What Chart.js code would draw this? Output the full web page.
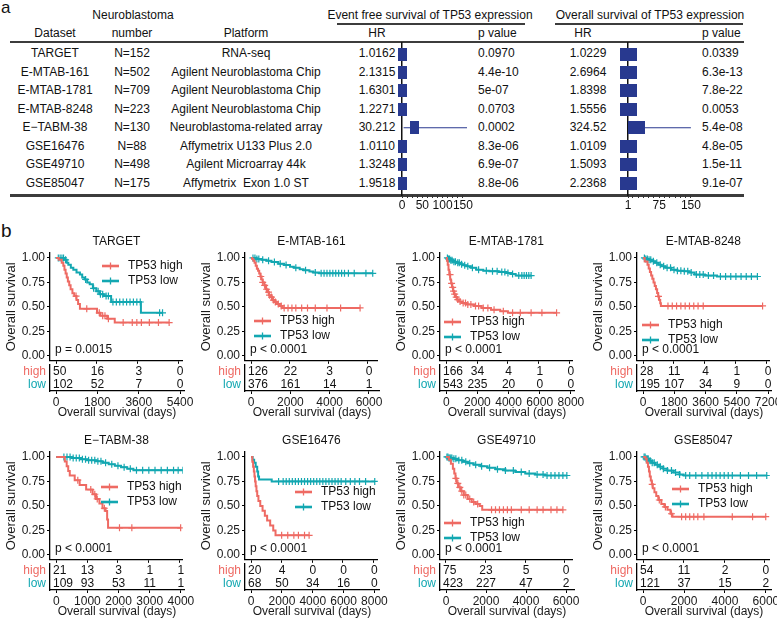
<!DOCTYPE html>
<html>
<head>
<meta charset="utf-8">
<script src="https://cdn.jsdelivr.net/npm/chart.js@4.4.1/dist/chart.umd.min.js"></script>
<style>
body { margin: 0; background: #fff; width: 777px; height: 621px; overflow: hidden; position: relative;
       font-family: "Liberation Sans", Arial, sans-serif; color: #111; }
.t { position: absolute; font-size: 12px; line-height: 14px; white-space: pre; }
.rule { position: absolute; background: #3c3c3c; }
canvas { position: absolute; }
</style>
</head>
<body>
<script>
const RED = '#EE6A63', TEAL = '#12A7B1', NAVY = '#28398F';
const FONT = '"Liberation Sans", Arial, sans-serif';

// ---------- panel a : table ----------
const datasets = ['TARGET', 'E-MTAB-161', 'E-MTAB-1781', 'E-MTAB-8248', 'E\u2212TABM-38', 'GSE16476', 'GSE49710', 'GSE85047'];
const sampleSizes = ['N=152', 'N=502', 'N=709', 'N=223', 'N=130', 'N=88', 'N=498', 'N=175'];
const platforms = ['RNA-seq', 'Agilent Neuroblastoma Chip', 'Agilent Neuroblastoma Chip', 'Agilent Neuroblastoma Chip',
  'Neuroblastoma-related array', 'Affymetrix U133 Plus 2.0', 'Agilent Microarray 44k', 'Affymetrix  Exon 1.0 ST'];
const efsHR = ['1.0162', '2.1315', '1.6301', '1.2271', '30.212', '1.0110', '1.3248', '1.9518'];
const efsP = ['0.0970', '4.4e-10', '5e-07', '0.0703', '0.0002', '8.3e-06', '6.9e-07', '8.8e-06'];
const osHR = ['1.0229', '2.6964', '1.8398', '1.5556', '324.52', '1.0109', '1.5093', '2.2368'];
const osP = ['0.0339', '6.3e-13', '7.8e-22', '0.0053', '5.4e-08', '4.8e-05', '1.5e-11', '9.1e-07'];

// forest plot marks as drawn (the OS square of E-TABM-38 is drawn near 20, not at 324)
const efsPoint = [1.02, 2.13, 1.63, 1.23, 30.2, 1.01, 1.32, 1.95];
const efsLow = [0.99, 1.7, 1.35, 0.98, 4, 1.0, 1.2, 1.45];
const efsHigh = [1.05, 2.7, 1.95, 1.55, 160, 1.02, 1.45, 2.6];
const osPoint = [1.02, 2.70, 1.84, 1.56, 20, 1.01, 1.51, 2.24];
const osLow = [1.0, 2.05, 1.6, 1.14, 3, 1.0, 1.34, 1.6];
const osHigh = [1.05, 3.5, 2.1, 2.1, 150, 1.02, 1.7, 3.1];
const efsTicks = [0, 12.5, 25, 37.5, 50, 62.5, 75, 87.5, 100, 112.5, 125, 137.5, 150];
const efsTickLabels = [0, 50, 100, 150];
const osTicks = [1, 12.5, 25, 37.5, 50, 62.5, 75, 87.5, 100, 112.5, 125, 137.5, 150];
const osTickLabels = [1, 75, 150];

// ---------- panel b : Kaplan-Meier curves, [days, survival] ----------
const targetHigh = [[0,1],[120,0.98],[250,0.95],[320,0.92],[370,0.88],[420,0.84],[470,0.8],[520,0.76],[580,0.72],[640,0.68],[720,0.64],[800,0.61],[900,0.57],[970,0.53],[1050,0.48],[1800,0.44],[1950,0.41],[2250,0.38],[2580,0.34],[4970,0.34]];
const targetLow = [[0,1],[380,0.98],[470,0.95],[540,0.93],[650,0.9],[760,0.88],[900,0.85],[1050,0.83],[1150,0.8],[1260,0.78],[1370,0.75],[1480,0.73],[1620,0.69],[1770,0.66],[1920,0.63],[2100,0.61],[2420,0.55],[3730,0.44],[4680,0.44]];
const targetHighCens = [880, 1350, 1900, 2050, 2150, 2300, 2950, 3350, 3550, 3750, 4100, 4500, 4970];
const targetLowCens = [100, 180, 260, 330, 420, 1300, 1650, 1850, 1950, 2050, 2200, 2300, 2500, 2650, 2800, 2950, 3100, 3250, 3400, 3550, 3700, 4550, 4680];
const targetBreaks = [0, 1800, 3600, 5400];
const targetRiskHigh = [50, 16, 3, 0];
const targetRiskLow = [102, 52, 7, 0];

const mtab161High = [[0,1],[60,0.99],[120,0.97],[180,0.95],[240,0.92],[300,0.89],[360,0.87],[420,0.84],[480,0.81],[540,0.78],[600,0.75],[680,0.72],[760,0.68],[840,0.65],[920,0.62],[1000,0.6],[1100,0.57],[1200,0.55],[1330,0.53],[1480,0.51],[1620,0.49],[5600,0.49]];
const mtab161Low = [[0,1],[250,0.99],[550,0.98],[800,0.97],[1050,0.957],[1400,0.94],[1700,0.927],[2000,0.91],[2200,0.9],[2500,0.885],[2700,0.873],[3000,0.86],[3200,0.85],[3500,0.843],[6250,0.843]];
const mtab161HighCens = [500, 600, 700, 800, 900, 950, 1050, 1150, 1250, 1400, 1550, 1700, 1900, 2100, 2300, 2600, 2900, 3300, 3900, 4600, 5600];
const mtab161LowCens = [100, 200, 300, 400, 600, 900, 1200, 1500, 1800, 2300, 2800, 3300, 3600, 3750, 3900, 4050, 4200, 4350, 4500, 4650, 4800, 5000, 5300, 5900, 6250];
const mtab161Breaks = [0, 2000, 4000, 6000];
const mtab161RiskHigh = [126, 22, 3, 0];
const mtab161RiskLow = [376, 161, 14, 1];

const mtab1781High = [[0,1],[50,0.97],[100,0.93],[150,0.88],[200,0.83],[260,0.78],[320,0.74],[380,0.7],[450,0.66],[520,0.63],[600,0.6],[700,0.575],[820,0.555],[1000,0.54],[1300,0.525],[1800,0.51],[2300,0.49],[2900,0.47],[3500,0.455],[4000,0.44],[7150,0.44]];
const mtab1781Low = [[0,1],[100,0.99],[250,0.975],[450,0.96],[670,0.95],[900,0.935],[1100,0.925],[1310,0.915],[1600,0.9],[1950,0.88],[2400,0.87],[2800,0.865],[3400,0.855],[3900,0.845],[4200,0.835],[4500,0.82],[5500,0.82]];
const mtab1781HighCens = [250, 350, 420, 480, 550, 650, 750, 900, 1100, 1250, 1400, 1600, 1900, 2100, 2400, 2700, 3100, 3700, 4300, 4800, 5500, 6200, 7150];
const mtab1781LowCens = [80, 150, 220, 300, 380, 500, 600, 750, 850, 1000, 1200, 1400, 1700, 2100, 2600, 3000, 3300, 3600, 3800, 4000, 4300, 4700, 4900, 5050, 5200, 5350, 5500];
const mtab1781Breaks = [0, 2000, 4000, 6000, 8000];
const mtab1781RiskHigh = [166, 34, 4, 1, 0];
const mtab1781RiskLow = [543, 235, 20, 0, 0];

const mtab8248High = [[0,1],[100,0.964],[260,0.929],[330,0.893],[400,0.857],[470,0.821],[540,0.786],[610,0.75],[680,0.714],[750,0.679],[820,0.643],[880,0.607],[940,0.571],[1000,0.536],[1040,0.51],[6950,0.51]];
const mtab8248Low = [[0,1],[150,0.99],[300,0.98],[500,0.966],[700,0.95],[900,0.93],[1075,0.915],[1300,0.9],[1650,0.88],[2000,0.87],[2400,0.864],[2700,0.85],[3000,0.83],[3600,0.82],[4300,0.81],[6650,0.81]];
const mtab8248HighCens = [900, 1450, 1700, 1950, 2200, 2450, 2700, 2950, 3200, 3500, 6950];
const mtab8248LowCens = [80, 160, 250, 350, 450, 600, 800, 1000, 1200, 1400, 1600, 1800, 2000, 2200, 2400, 2600, 2800, 3100, 3300, 3500, 3800, 4100, 4500, 4800, 5100, 5400, 5700, 6000, 6300, 6650];
const mtab8248Breaks = [0, 1800, 3600, 5400, 7200];
const mtab8248RiskHigh = [28, 11, 4, 1, 0];
const mtab8248RiskLow = [195, 107, 34, 9, 0];

const tabm38High = [[0,1],[280,0.952],[340,0.905],[390,0.857],[440,0.81],[600,0.762],[760,0.714],[970,0.667],[1180,0.619],[1290,0.571],[1400,0.524],[1500,0.476],[1600,0.448],[1650,0.36],[1680,0.276],[4030,0.276]];
const tabm38Low = [[0,1],[500,0.99],[800,0.975],[1000,0.965],[1300,0.955],[1500,0.94],[1700,0.925],[1900,0.91],[2100,0.895],[2300,0.88],[2500,0.865],[4100,0.865]];
const tabm38HighCens = [700, 1120, 1250, 1330, 1560, 2050, 2450, 4030];
const tabm38LowCens = [250, 350, 450, 550, 650, 750, 850, 950, 1050, 1150, 1250, 1350, 1450, 1600, 1800, 2000, 2200, 2400, 2600, 2800, 3000, 3200, 3400, 3600, 3800, 3950, 4100];
const tabm38Breaks = [0, 1000, 2000, 3000, 4000];
const tabm38RiskHigh = [21, 13, 3, 1, 1];
const tabm38RiskLow = [109, 93, 53, 11, 1];

const gse16476High = [[0,1],[80,0.95],[130,0.9],[180,0.85],[220,0.8],[260,0.75],[300,0.7],[350,0.65],[400,0.6],[480,0.55],[600,0.5],[750,0.45],[900,0.4],[1050,0.35],[1250,0.3],[1450,0.25],[1600,0.2],[3800,0.2]];
const gse16476Low = [[0,1],[100,0.97],[200,0.94],[300,0.9],[400,0.85],[460,0.8],[520,0.77],[1350,0.75],[8100,0.75]];
const gse16476HighCens = [2000, 2400, 2800, 3100, 3500, 3800];
const gse16476LowCens = [1800, 2100, 2300, 2500, 2700, 2900, 3100, 3300, 3500, 3700, 3900, 4100, 4300, 4500, 4700, 4900, 5100, 5300, 5500, 5700, 5900, 6200, 6500, 6800, 7100, 7500, 8100];
const gse16476Breaks = [0, 2000, 4000, 6000, 8000];
const gse16476RiskHigh = [20, 4, 0, 0, 0];
const gse16476RiskLow = [68, 50, 34, 16, 0];

const gse49710High = [[0,1],[150,0.97],[250,0.93],[350,0.88],[420,0.83],[480,0.78],[540,0.73],[620,0.69],[750,0.65],[900,0.61],[1100,0.57],[1300,0.54],[1500,0.52],[1700,0.5],[1830,0.46],[5900,0.46]];
const gse49710Low = [[0,1],[150,0.99],[350,0.98],[600,0.965],[850,0.95],[1100,0.935],[1400,0.92],[1750,0.905],[2100,0.89],[2500,0.875],[3000,0.86],[3500,0.845],[4000,0.83],[4500,0.82],[5000,0.81],[6100,0.81]];
const gse49710HighCens = [500, 600, 700, 800, 900, 1000, 1200, 1400, 1600, 2300, 2500, 2700, 2900, 3100, 3300, 3800, 4200, 4600, 4900, 5300, 5600, 5900];
const gse49710LowCens = [50, 100, 150, 200, 250, 300, 400, 500, 650, 800, 1000, 1200, 1500, 1800, 2200, 2600, 3000, 3400, 3800, 4200, 4600, 4900, 5100, 5300, 5500, 5700, 5900, 6100];
const gse49710Breaks = [0, 2000, 4000, 6000];
const gse49710RiskHigh = [75, 23, 5, 0];
const gse49710RiskLow = [423, 227, 47, 2];

const gse85047High = [[0,1],[120,0.98],[180,0.94],[240,0.9],[290,0.85],[330,0.8],[380,0.76],[430,0.72],[480,0.68],[560,0.64],[650,0.6],[750,0.56],[900,0.52],[1050,0.49],[1200,0.46],[1350,0.42],[1450,0.39],[6050,0.39]];
const gse85047Low = [[0,1],[150,0.98],[300,0.96],[450,0.94],[600,0.92],[800,0.9],[1000,0.88],[1200,0.86],[1500,0.84],[1800,0.82],[2000,0.81],[6100,0.81]];
const gse85047HighCens = [450, 800, 1100, 1400, 1900, 2100, 2300, 2500, 2700, 3000, 4400, 5400, 6050];
const gse85047LowCens = [50, 100, 150, 200, 250, 350, 450, 550, 700, 850, 1000, 1200, 1400, 1600, 1800, 2100, 2300, 2600, 2900, 3200, 3400, 3600, 3800, 4000, 4200, 4400, 4800, 5200, 5600, 6100];
const gse85047Breaks = [0, 2000, 4000, 6000];
const gse85047RiskHigh = [54, 11, 2, 0];
const gse85047RiskLow = [121, 37, 15, 2];

const survTicks = [0, 0.25, 0.5, 0.75, 1];

const panels = [
  { title: 'TARGET', high: targetHigh, low: targetLow, highCens: targetHighCens, lowCens: targetLowCens, breaks: targetBreaks, riskHigh: targetRiskHigh, riskLow: targetRiskLow, p: 'p = 0.0015', xMin: -265, xMax: 5570, col: 0, row: 0, lx: 52, ly: 13 },
  { title: 'E-MTAB-161', high: mtab161High, low: mtab161Low, highCens: mtab161HighCens, lowCens: mtab161LowCens, breaks: mtab161Breaks, riskHigh: mtab161RiskHigh, riskLow: mtab161RiskLow, p: 'p < 0.0001', xMin: -310, xMax: 6510, col: 1, row: 0, lx: 9, ly: 68 },
  { title: 'E-MTAB-1781', high: mtab1781High, low: mtab1781Low, highCens: mtab1781HighCens, lowCens: mtab1781LowCens, breaks: mtab1781Breaks, riskHigh: mtab1781RiskHigh, riskLow: mtab1781RiskLow, p: 'p < 0.0001', xMin: -400, xMax: 8200, col: 2, row: 0, lx: 4, ly: 69 },
  { title: 'E-MTAB-8248', high: mtab8248High, low: mtab8248Low, highCens: mtab8248HighCens, lowCens: mtab8248LowCens, breaks: mtab8248Breaks, riskHigh: mtab8248RiskHigh, riskLow: mtab8248RiskLow, p: 'p < 0.0001', xMin: -350, xMax: 7370, col: 3, row: 0, lx: 5, ly: 72 },
  { title: 'E\u2212TABM-38', high: tabm38High, low: tabm38Low, highCens: tabm38HighCens, lowCens: tabm38LowCens, breaks: tabm38Breaks, riskHigh: tabm38RiskHigh, riskLow: tabm38RiskLow, p: 'p < 0.0001', xMin: -200, xMax: 4100, col: 0, row: 1, lx: 51, ly: 35 },
  { title: 'GSE16476', high: gse16476High, low: gse16476Low, highCens: gse16476HighCens, lowCens: gse16476LowCens, breaks: gse16476Breaks, riskHigh: gse16476RiskHigh, riskLow: gse16476RiskLow, p: 'p < 0.0001', xMin: -400, xMax: 8300, col: 1, row: 1, lx: 50, ly: 40 },
  { title: 'GSE49710', high: gse49710High, low: gse49710Low, highCens: gse49710HighCens, lowCens: gse49710LowCens, breaks: gse49710Breaks, riskHigh: gse49710RiskHigh, riskLow: gse49710RiskLow, p: 'p < 0.0001', xMin: -300, xMax: 6400, col: 2, row: 1, lx: 4, ly: 71 },
  { title: 'GSE85047', high: gse85047High, low: gse85047Low, highCens: gse85047HighCens, lowCens: gse85047LowCens, breaks: gse85047Breaks, riskHigh: gse85047RiskHigh, riskLow: gse85047RiskLow, p: 'p < 0.0001', xMin: -300, xMax: 6250, col: 3, row: 1, lx: 35, ly: 37 }
];

// layout
const axisX = [50, 245, 440, 637];
const plotTop = [253, 452];
const riskTop = [365, 564];
const rowY = i => 42 + (i + 0.6) / 8.25 * 153;

function text(str, x, y, opts = {}) {
  const d = document.createElement('div');
  d.className = 't';
  d.textContent = str;
  d.style.left = x + 'px';
  d.style.top = y + 'px';
  d.style.transform = opts.left ? 'translate(0,-50%)' : 'translate(-50%,-50%)';
  if (opts.size) d.style.fontSize = opts.size + 'px';
  if (opts.size) d.style.lineHeight = opts.size + 'px';
  document.body.appendChild(d);
}
function rule(x, y, w, h) {
  const d = document.createElement('div');
  d.className = 'rule';
  Object.assign(d.style, { left: x + 'px', top: y + 'px', width: w + 'px', height: h + 'px' });
  document.body.appendChild(d);
}
function canvas(x, y, w, h) {
  const c = document.createElement('canvas');
  c.width = w; c.height = h;
  Object.assign(c.style, { left: x + 'px', top: y + 'px', width: w + 'px', height: h + 'px' });
  document.body.appendChild(c);
  return c;
}
// fixed axis sizes so every panel lines up
function fixScale(size) {
  return s => {
    if (s.isHorizontal()) { s.height = size; s.paddingLeft = 0; s.paddingRight = 0; }
    else { s.width = size; s.paddingTop = 0; s.paddingBottom = 0; }
  };
}
function survAt(curve, t) {
  let s = curve[0][1];
  curve.forEach(([x, y]) => { if (x <= t) s = y; });
  return s;
}

// ---------- panel a ----------
text('a', 1, 7, { left: true, size: 17 });
text('Neuroblastoma', 133, 15);
text('Event free survival of TP53 expression', 430, 15);
text('Overall survival of TP53 expression', 650, 15);
rule(337, 23, 188, 1.5);
rule(555, 23, 188, 1.5);
text('Dataset', 55, 33); text('number', 132, 33); text('Platform', 246, 33);
text('HR', 377, 33); text('p value', 478, 33, { left: true });
text('HR', 583, 33); text('p value', 702, 33, { left: true });
rule(10, 41, 734, 1.8);
rule(10, 194, 734, 2.8);
datasets.forEach((d, i) => {
  const y = rowY(i);
  text(d, 55, y); text(sampleSizes[i], 132, y); text(platforms[i], 246, y);
  text(efsHR[i], 377, y); text(efsP[i], 478, y, { left: true });
  text(osHR[i], 588, y); text(osP[i], 702, y, { left: true });
});

function boxImage(w, h) {
  const c = document.createElement('canvas');
  c.width = w; c.height = h;
  const g = c.getContext('2d');
  g.fillStyle = NAVY; g.fillRect(0, 0, w, h);
  return c;
}

function forest(left, point, low, high, ticks, labels, xMin, xMax, boxW) {
  const cv = canvas(left, 36, 85, 177);
  const ciSets = point.map((_, i) => ({
    type: 'line', data: [{ x: low[i], y: i }, { x: high[i], y: i }],
    borderColor: NAVY, borderWidth: 1.2, pointRadius: 0, clip: false
  }));
  new Chart(cv, {
    type: 'scatter',
    data: { datasets: [...ciSets, {
      data: point.map((v, i) => ({ x: v, y: i })),
      pointStyle: boxImage(boxW, 13), pointRadius: 6, clip: false
    }] },
    options: {
      responsive: false, animation: false, devicePixelRatio: 1,
      layout: { padding: { top: 6, left: 10, right: 10, bottom: 2 } },
      plugins: { legend: { display: false }, tooltip: { enabled: false } },
      scales: {
        x: { type: 'linear', min: xMin, max: xMax,
             afterBuildTicks: s => { s.ticks = ticks.map(v => ({ value: v })); },
             ticks: { callback: v => labels.includes(v) ? String(v) : '', font: { family: FONT, size: 12 },
                      color: '#111', padding: 0, maxRotation: 0, autoSkip: false },
             grid: { drawOnChartArea: false, tickLength: 3, color: '#333' },
             border: { display: false }, afterFit: fixScale(16) },
        y: { type: 'linear', min: -0.6, max: 7.65, reverse: true,
             ticks: { display: false }, grid: { display: false, drawTicks: false },
             border: { display: true, color: '#111', width: 1.5 }, afterFit: fixScale(0) }
      }
    }
  });
}
forest(392, efsPoint, efsLow, efsHigh, efsTicks, efsTickLabels, 0, 160, 9);
forest(618, osPoint, osLow, osHigh, osTicks, osTickLabels, 1, 155, 17);

// ---------- panel b ----------
text('b', 1, 230, { left: true, size: 19 });

const kmDecor = {
  id: 'kmDecor',
  afterDraw(chart, args, o) {
    const { ctx, chartArea: ca } = chart;
    ctx.save();
    ctx.font = `12px ${FONT}`;
    ctx.textBaseline = 'middle';
    ctx.fillStyle = '#111';
    ctx.textAlign = 'center';
    ctx.fillText(o.title, (ca.left + ca.right) / 2, ca.top - 11);
    ctx.textAlign = 'left';
    ctx.fillText(o.p, ca.left + 5, ca.top + 97);
    [['TP53 high', RED], ['TP53 low', TEAL]].forEach(([label, color], i) => {
      const x = ca.left + o.lx, y = ca.top + o.ly + i * 15;
      ctx.strokeStyle = color;
      ctx.lineWidth = 2.6;
      ctx.beginPath(); ctx.moveTo(x, y); ctx.lineTo(x + 17, y); ctx.stroke();
      ctx.lineWidth = 1.3;
      ctx.beginPath(); ctx.moveTo(x + 8.5, y - 3.5); ctx.lineTo(x + 8.5, y + 3.5); ctx.stroke();
      ctx.fillStyle = '#111';
      ctx.fillText(label, x + 26, y);
    });
    ctx.restore();
  }
};
// numbers at risk, centred on their break but kept clear of the left axis line
const riskText = {
  id: 'riskText',
  afterDatasetsDraw(chart) {
    const { ctx, chartArea: ca } = chart;
    ctx.save();
    ctx.font = `12px ${FONT}`;
    ctx.textAlign = 'center';
    ctx.textBaseline = 'middle';
    ctx.fillStyle = '#111';
    chart.data.datasets.forEach((ds, di) => {
      chart.getDatasetMeta(di).data.forEach((el, j) => {
        const s = String(ds.data[j].n);
        const half = ctx.measureText(s).width / 2;
        ctx.fillText(s, Math.max(el.x, ca.left + 3 + half), el.y);
      });
    });
    ctx.restore();
  }
};

const axisGrid = { drawOnChartArea: false, tickLength: 3, color: '#000' };
const axisBorder = { display: true, color: '#000', width: 1.3 };

panels.forEach(p => {
  const ax = axisX[p.col];
  const xScale = extra => Object.assign({
    type: 'linear', min: p.xMin, max: p.xMax,
    afterBuildTicks: s => { s.ticks = p.breaks.map(v => ({ value: v })); },
    grid: axisGrid, border: axisBorder
  }, extra);

  const km = canvas(ax - 50, plotTop[p.row] - 22, 188, 135);
  new Chart(km, {
    type: 'line',
    data: { datasets: [
      { data: p.high.map(([x, y]) => ({ x, y })), borderColor: RED, borderWidth: 2, stepped: true, pointRadius: 0, fill: false },
      { data: p.low.map(([x, y]) => ({ x, y })), borderColor: TEAL, borderWidth: 2, stepped: true, pointRadius: 0, fill: false },
      { data: p.highCens.map(t => ({ x: t, y: survAt(p.high, t) })), showLine: false, pointStyle: 'cross', pointRadius: 3.5, borderColor: RED, borderWidth: 1.2 },
      { data: p.lowCens.map(t => ({ x: t, y: survAt(p.low, t) })), showLine: false, pointStyle: 'cross', pointRadius: 3.5, borderColor: TEAL, borderWidth: 1.2 }
    ] },
    options: {
      responsive: false, animation: false, devicePixelRatio: 1,
      layout: { padding: { top: 22, right: 4, bottom: 1, left: 0 } },
      plugins: { legend: { display: false }, tooltip: { enabled: false },
                 kmDecor: { title: p.title, p: p.p, lx: p.lx, ly: p.ly } },
      scales: {
        x: xScale({ ticks: { display: false }, afterFit: fixScale(4) }),
        y: { type: 'linear', min: -0.05, max: 1.05,
             afterBuildTicks: s => { s.ticks = survTicks.map(v => ({ value: v })); },
             ticks: { callback: v => v.toFixed(2), font: { family: FONT, size: 12 }, color: '#1a1a1a', padding: 2 },
             grid: axisGrid, border: axisBorder,
             title: { display: true, text: 'Overall survival', font: { family: FONT, size: 13 }, color: '#1a1a1a', padding: { top: 4, bottom: 0 } },
             afterFit: fixScale(50) }
      }
    },
    plugins: [kmDecor]
  });

  const rk = canvas(ax - 50, riskTop[p.row] - 2, 202, 57);
  new Chart(rk, {
    type: 'scatter',
    data: { datasets: [
      { data: p.breaks.map((b, i) => ({ x: b, y: 'high', n: p.riskHigh[i] })), pointRadius: 0 },
      { data: p.breaks.map((b, i) => ({ x: b, y: 'low', n: p.riskLow[i] })), pointRadius: 0 }
    ] },
    options: {
      responsive: false, animation: false, devicePixelRatio: 1,
      layout: { padding: { top: 2, right: 18, bottom: 0, left: 0 } },
      plugins: { legend: { display: false }, tooltip: { enabled: false } },
      scales: {
        x: xScale({
          ticks: { callback: v => String(v), font: { family: FONT, size: 12 }, color: '#1a1a1a', padding: 1, maxRotation: 0, autoSkip: false },
          title: { display: true, text: 'Overall survival (days)', font: { family: FONT, size: 12 }, color: '#1a1a1a', padding: 0 },
          afterFit: fixScale(29)
        }),
        y: { type: 'category', labels: ['high', 'low'], offset: true,
             ticks: { color: c => c.index === 0 ? RED : TEAL, font: { family: FONT, size: 12 }, padding: 4, autoSkip: false },
             grid: { display: false, drawTicks: false }, border: axisBorder, afterFit: fixScale(50) }
      }
    },
    plugins: [riskText]
  });
});
</script>
</body>
</html>
